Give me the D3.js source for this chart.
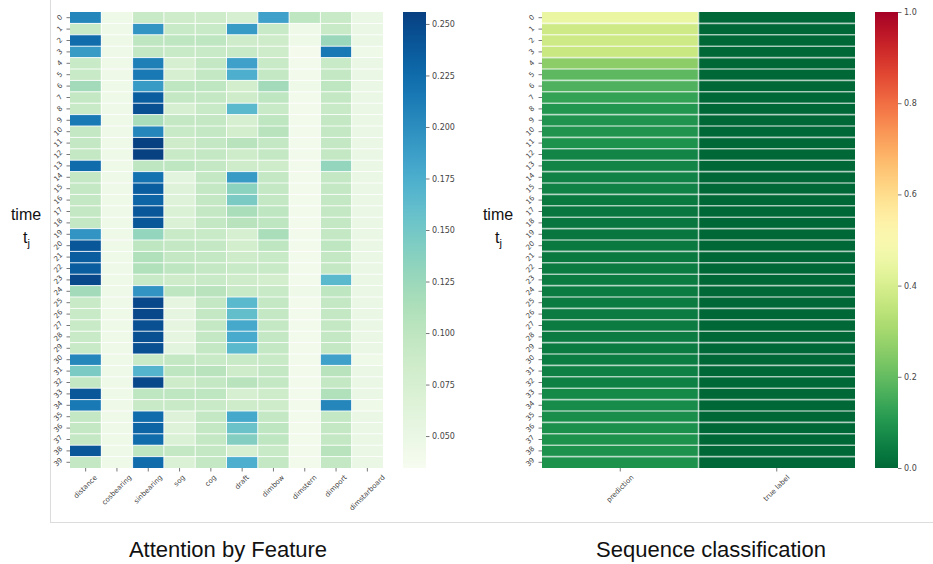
<!DOCTYPE html>
<html>
<head>
<meta charset="utf-8">
<script src="https://cdn.jsdelivr.net/npm/d3@7"></script>
<style>
  html, body { margin: 0; padding: 0; background: #fff; }
  svg { display: block; }
  .tick-label { font-family: "DejaVu Sans", sans-serif; font-size: 7px; fill: #444; }
  .cbar-label { font-family: "DejaVu Sans", sans-serif; font-size: 8px; fill: #444; }
  .title { font-family: "Liberation Sans", Arial, sans-serif; font-size: 22px; fill: #111; }
  .side { font-family: "Liberation Sans", Arial, sans-serif; font-size: 16px; fill: #111; }
</style>
</head>
<body>
<svg id="chart" width="933" height="564"></svg>
<script>
// Attention weight per feature at each time step
const features = ["distance", "cosbearing", "sinbearing", "sog", "cog", "draft", "dimbow", "dimstern", "dimport", "dimstarboard"];
const timeSteps = d3.range(40).map(String);

const distance     = [0.205,0.090,0.225,0.190,0.090,0.090,0.120,0.095,0.090,0.215,0.095,0.095,0.095,0.225,0.095,0.095,0.095,0.095,0.095,0.195,0.240,0.235,0.235,0.250,0.120,0.090,0.090,0.090,0.090,0.090,0.205,0.145,0.095,0.240,0.215,0.095,0.095,0.095,0.240,0.095];
const cosbearing   = [0.045,0.045,0.047,0.045,0.045,0.045,0.045,0.045,0.045,0.045,0.045,0.045,0.045,0.045,0.045,0.045,0.045,0.045,0.045,0.045,0.045,0.045,0.045,0.045,0.045,0.045,0.045,0.045,0.045,0.045,0.045,0.045,0.045,0.045,0.045,0.045,0.045,0.045,0.045,0.045];
const sinbearing   = [0.090,0.195,0.100,0.095,0.210,0.215,0.190,0.235,0.245,0.115,0.205,0.255,0.255,0.100,0.220,0.235,0.230,0.240,0.240,0.130,0.100,0.110,0.110,0.090,0.195,0.250,0.250,0.245,0.245,0.245,0.090,0.170,0.250,0.100,0.090,0.225,0.230,0.225,0.100,0.225];
const sog          = [0.085,0.090,0.100,0.090,0.075,0.075,0.100,0.095,0.075,0.095,0.090,0.085,0.090,0.100,0.060,0.065,0.065,0.070,0.070,0.090,0.095,0.095,0.100,0.085,0.100,0.055,0.055,0.055,0.055,0.060,0.095,0.100,0.085,0.100,0.090,0.065,0.065,0.070,0.095,0.070];
const cog          = [0.085,0.090,0.100,0.090,0.095,0.095,0.100,0.095,0.090,0.095,0.095,0.095,0.095,0.095,0.095,0.095,0.095,0.095,0.095,0.090,0.095,0.095,0.095,0.090,0.105,0.095,0.095,0.095,0.095,0.095,0.090,0.105,0.095,0.100,0.090,0.095,0.095,0.095,0.095,0.095];
const draft        = [0.075,0.190,0.085,0.090,0.185,0.175,0.080,0.085,0.165,0.075,0.080,0.105,0.085,0.085,0.190,0.135,0.145,0.115,0.105,0.075,0.080,0.085,0.090,0.085,0.090,0.165,0.160,0.180,0.178,0.165,0.090,0.085,0.105,0.075,0.085,0.180,0.155,0.140,0.075,0.175];
const dimbow       = [0.185,0.090,0.085,0.085,0.090,0.095,0.120,0.100,0.090,0.100,0.105,0.095,0.095,0.085,0.095,0.095,0.095,0.100,0.100,0.115,0.100,0.090,0.090,0.080,0.090,0.095,0.095,0.095,0.095,0.095,0.090,0.095,0.095,0.085,0.085,0.095,0.100,0.100,0.090,0.095];
const dimstern     = [0.100,0.045,0.045,0.038,0.040,0.040,0.045,0.040,0.040,0.040,0.040,0.040,0.040,0.040,0.040,0.040,0.040,0.040,0.040,0.040,0.040,0.040,0.040,0.040,0.045,0.040,0.040,0.040,0.040,0.040,0.040,0.040,0.040,0.040,0.040,0.040,0.040,0.040,0.040,0.040];
const dimport      = [0.090,0.090,0.125,0.215,0.090,0.095,0.100,0.095,0.090,0.095,0.095,0.095,0.095,0.130,0.095,0.095,0.095,0.095,0.095,0.095,0.100,0.095,0.095,0.165,0.100,0.095,0.095,0.095,0.095,0.095,0.185,0.105,0.095,0.110,0.205,0.095,0.095,0.095,0.105,0.095];
const dimstarboard = [0.050,0.050,0.050,0.045,0.050,0.050,0.050,0.050,0.050,0.050,0.050,0.050,0.050,0.050,0.050,0.050,0.050,0.050,0.050,0.050,0.050,0.050,0.050,0.050,0.050,0.050,0.050,0.050,0.050,0.050,0.045,0.050,0.050,0.050,0.045,0.050,0.050,0.050,0.050,0.050];

const attentionColumns = [distance, cosbearing, sinbearing, sog, cog, draft, dimbow, dimstern, dimport, dimstarboard];
const attentionTicks = [0.050, 0.075, 0.100, 0.125, 0.150, 0.175, 0.200, 0.225, 0.250];

// Predicted class probability vs. true label per time step
const classes = ["prediction", "true label"];
const prediction = [0.45,0.38,0.38,0.37,0.26,0.19,0.17,0.13,0.10,0.095,0.095,0.09,0.06,0.06,0.055,0.055,0.035,0.03,0.03,0.03,0.035,0.035,0.04,0.04,0.04,0.04,0.04,0.04,0.04,0.04,0.045,0.05,0.05,0.07,0.075,0.08,0.085,0.09,0.09,0.09];
const trueLabel = d3.range(40).map(() => 0);
const classColumns = [prediction, trueLabel];
const classTicks = [0.0, 0.2, 0.4, 0.6, 0.8, 1.0];

const svg = d3.select("#chart");

// Panel frame
svg.append("line").attr("x1", 50.5).attr("x2", 50.5).attr("y1", 0).attr("y2", 522.5)
  .attr("stroke", "#dcdcdc").attr("stroke-width", 1);
svg.append("line").attr("x1", 50).attr("x2", 933).attr("y1", 522.5).attr("y2", 522.5)
  .attr("stroke", "#dcdcdc").attr("stroke-width", 1);

function heatmap(opts) {
  const g = svg.append("g");
  const x = d3.scaleBand().domain(opts.cols).range([opts.x0, opts.x1]);
  const y = d3.scaleBand().domain(timeSteps).range([opts.y0, opts.y1]);

  opts.columns.forEach((vals, ci) => {
    g.selectAll(null).data(vals).enter().append("rect")
      .attr("x", x(opts.cols[ci]))
      .attr("y", (d, i) => y(timeSteps[i]))
      .attr("width", x.bandwidth())
      .attr("height", y.bandwidth())
      .attr("fill", d => opts.color(d));
  });

  // cell separators
  const grid = g.append("g").attr("stroke", "#fff").attr("stroke-opacity", opts.gridOpacity)
    .attr("stroke-width", opts.gridWidth);
  timeSteps.slice(1).forEach(t => {
    grid.append("line").attr("x1", opts.x0).attr("x2", opts.x1)
      .attr("y1", y(t)).attr("y2", y(t));
  });
  opts.cols.slice(1).forEach(c => {
    grid.append("line").attr("x1", x(c)).attr("x2", x(c))
      .attr("y1", opts.y0).attr("y2", opts.y1);
  });

  // y ticks and rotated labels
  timeSteps.forEach(t => {
    const cy = y(t) + y.bandwidth() / 2;
    g.append("line").attr("x1", opts.x0 - 3.5).attr("x2", opts.x0).attr("y1", cy).attr("y2", cy)
      .attr("stroke", "#555").attr("stroke-width", 0.8);
    const txt = g.append("text").attr("class", "tick-label")
      .attr("text-anchor", "middle").attr("dominant-baseline", "central").text(t);
    const L = txt.node().getComputedTextLength();
    const half = (L + 7) * 0.7071 / 2;
    const cx = opts.x0 - 6 - half;
    txt.attr("transform", `translate(${cx},${cy}) rotate(-45)`);
  });

  // x ticks and rotated labels
  opts.cols.forEach(c => {
    const cx = x(c) + x.bandwidth() / 2;
    g.append("line").attr("x1", cx).attr("x2", cx).attr("y1", opts.y1).attr("y2", opts.y1 + 3.5)
      .attr("stroke", "#555").attr("stroke-width", 0.8);
    const txt = g.append("text").attr("class", "tick-label")
      .attr("text-anchor", "middle").attr("dominant-baseline", "central").text(c);
    const L = txt.node().getComputedTextLength();
    const half = (L + 7) * 0.7071 / 2;
    const cy = opts.y1 + 6 + half;
    txt.attr("transform", `translate(${cx},${cy}) rotate(-45)`);
  });

  // colorbar
  const cb = svg.append("g");
  const cbScale = d3.scaleLinear().domain(opts.color.domain()).range([opts.y1, opts.y0]);
  const gradId = opts.id + "-grad";
  const grad = svg.append("defs").append("linearGradient").attr("id", gradId)
    .attr("x1", 0).attr("x2", 0).attr("y1", 1).attr("y2", 0);
  d3.range(0, 1.0001, 0.02).forEach(t => {
    const [d0, d1] = opts.color.domain();
    grad.append("stop").attr("offset", t).attr("stop-color", opts.color(d0 + t * (d1 - d0)));
  });
  cb.append("rect").attr("x", opts.cbX).attr("y", opts.y0).attr("width", opts.cbW)
    .attr("height", opts.y1 - opts.y0).attr("fill", `url(#${gradId})`);
  const axis = d3.axisRight(cbScale).tickValues(opts.ticks).tickFormat(opts.fmt)
    .tickSize(3.5).tickPadding(2.5);
  const ax = cb.append("g").attr("transform", `translate(${opts.cbX + opts.cbW},0)`).call(axis);
  ax.select(".domain").remove();
  ax.selectAll(".tick line").attr("stroke", "#555").attr("stroke-width", 0.8);
  ax.selectAll(".tick text").attr("class", "cbar-label").attr("font-family", null).attr("font-size", null);
}

heatmap({
  id: "attn", cols: features, columns: attentionColumns,
  x0: 70, x1: 383, y0: 12, y1: 468,
  color: d3.scaleSequential(d3.interpolateGnBu).domain([0.0345, 0.2558]),
  gridWidth: 1, gridOpacity: 0.85,
  cbX: 403, cbW: 23, ticks: attentionTicks, fmt: d3.format(".3f")
});

heatmap({
  id: "cls", cols: classes, columns: classColumns,
  x0: 542, x1: 855, y0: 12, y1: 468,
  color: d3.scaleSequential(t => d3.interpolateRdYlGn(1 - t)).domain([0, 1]),
  gridWidth: 1.6, gridOpacity: 0.6,
  cbX: 875, cbW: 23, ticks: classTicks, fmt: d3.format(".1f")
});

// Side labels
[28, 500].forEach(x => {
  svg.append("text").attr("class", "side").attr("x", x - 2).attr("y", 220)
    .attr("text-anchor", "middle").text("time");
  const t = svg.append("text").attr("class", "side").attr("x", x - 5).attr("y", 243);
  t.append("tspan").text("t");
  t.append("tspan").attr("font-size", "11px").attr("dy", 4).text("j");
});

// Panel titles
svg.append("text").attr("class", "title").attr("x", 228).attr("y", 557)
  .attr("text-anchor", "middle").text("Attention by Feature");
svg.append("text").attr("class", "title").attr("x", 711).attr("y", 557)
  .attr("text-anchor", "middle").text("Sequence classification");
</script>
</body>
</html>
